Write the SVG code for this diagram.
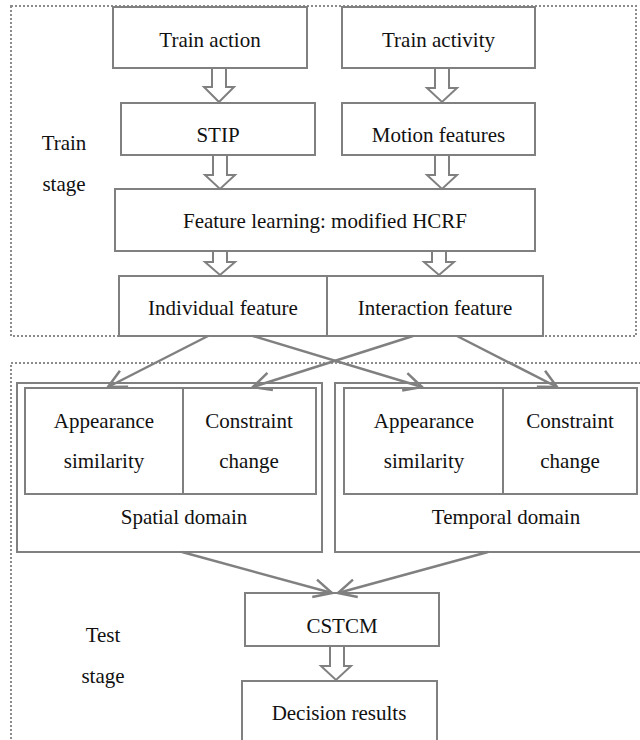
<svg xmlns="http://www.w3.org/2000/svg" width="640" height="740" viewBox="0 0 640 740">
<style>
  .box{fill:#fff;stroke:#808080;stroke-width:2}
  .dot{fill:none;stroke:#8c8c8c;stroke-width:2;stroke-dasharray:2 2}
  .hol{fill:#fff;stroke:#808080;stroke-width:2;stroke-linejoin:miter}
  .ln{stroke:#808080;stroke-width:2.5;fill:none;marker-end:url(#v)}
  text{font-family:"Liberation Serif","Times New Roman",serif;font-size:21px;fill:#111;text-anchor:middle}
</style>
<defs>
  <marker id="v" markerUnits="userSpaceOnUse" markerWidth="22" markerHeight="22" refX="18" refY="9" orient="auto" overflow="visible">
    <path d="M0,0 L18,9 L0,18" fill="none" stroke="#808080" stroke-width="2.5"/>
  </marker>
</defs>
<rect width="640" height="740" fill="#fff"/>

<g id="train-stage-frame">
  <rect class="dot" x="11" y="6" width="625" height="330"/>
  <text x="64" y="150">Train</text>
  <text x="64" y="191">stage</text>
</g>
<g id="test-stage-frame">
  <rect class="dot" x="11" y="363" width="650" height="400"/>
  <text x="103" y="642">Test</text>
  <text x="103" y="683">stage</text>
</g>

<g id="train-action"><rect class="box" x="113" y="7" width="194" height="61"/><text x="210" y="47">Train action</text></g>
<g id="train-activity"><rect class="box" x="342" y="7" width="193" height="61"/><text x="438.5" y="47">Train activity</text></g>
<g id="stip"><rect class="box" x="121" y="103" width="194" height="52"/><text x="218" y="142">STIP</text></g>
<g id="motion-features"><rect class="box" x="342" y="103" width="193" height="52"/><text x="438.5" y="142">Motion features</text></g>
<g id="feature-learning"><rect class="box" x="115" y="189" width="420" height="62"/><text x="325" y="228">Feature learning: modified HCRF</text></g>
<g id="individual-feature"><rect class="box" x="119" y="276" width="208" height="60"/><text x="223" y="315">Individual feature</text></g>
<g id="interaction-feature"><rect class="box" x="327" y="276" width="216" height="60"/><text x="435" y="315">Interaction feature</text></g>

<g id="spatial-domain">
  <rect class="box" x="17" y="383" width="305" height="169"/>
  <rect class="box" x="25" y="388" width="291" height="106"/>
  <line x1="183" y1="388" x2="183" y2="494" stroke="#808080" stroke-width="2"/>
  <text x="104" y="428">Appearance</text>
  <text x="104" y="468">similarity</text>
  <text x="249" y="428">Constraint</text>
  <text x="249" y="468">change</text>
  <text x="184" y="524">Spatial domain</text>
</g>
<g id="temporal-domain">
  <rect class="box" x="335" y="383" width="310" height="169"/>
  <rect class="box" x="344" y="388" width="293" height="106"/>
  <line x1="503" y1="388" x2="503" y2="494" stroke="#808080" stroke-width="2"/>
  <text x="424" y="428">Appearance</text>
  <text x="424" y="468">similarity</text>
  <text x="570" y="428">Constraint</text>
  <text x="570" y="468">change</text>
  <text x="506" y="524">Temporal domain</text>
</g>

<g id="cstcm"><rect class="box" x="245" y="593" width="194" height="53"/><text x="342" y="633">CSTCM</text></g>
<g id="decision-results"><rect class="box" x="242" y="681" width="195" height="80"/><text x="339" y="720">Decision results</text></g>

<g id="connectors">
  <path class="hol" d="M212,68 H226 V87 H234 L219,102 L204,87 H212 Z"/>
  <path class="hol" d="M435,68 H449 V88 H457 L442,102 L427,88 H435 Z"/>
  <path class="hol" d="M213,155 H227 V175 H235 L220,189 L205,175 H213 Z"/>
  <path class="hol" d="M435,155 H449 V175 H457 L442,189 L427,175 H435 Z"/>
  <path class="hol" d="M213,251 H227 V262 H235 L220,275 L205,262 H213 Z"/>
  <path class="hol" d="M432,251 H446 V262 H454 L439,275 L424,262 H432 Z"/>
  <path class="hol" d="M330,646 H344 V666 H351 L336,680 L321,666 H330 Z"/>
  <line class="ln" x1="208" y1="336" x2="108" y2="387"/>
  <line class="ln" x1="253" y1="336" x2="422" y2="387"/>
  <line class="ln" x1="413" y1="336" x2="253" y2="387"/>
  <line class="ln" x1="457" y1="336" x2="557" y2="387"/>
  <line class="ln" x1="182" y1="552" x2="332" y2="593"/>
  <line class="ln" x1="488" y1="552" x2="338" y2="593"/>
</g>
</svg>
